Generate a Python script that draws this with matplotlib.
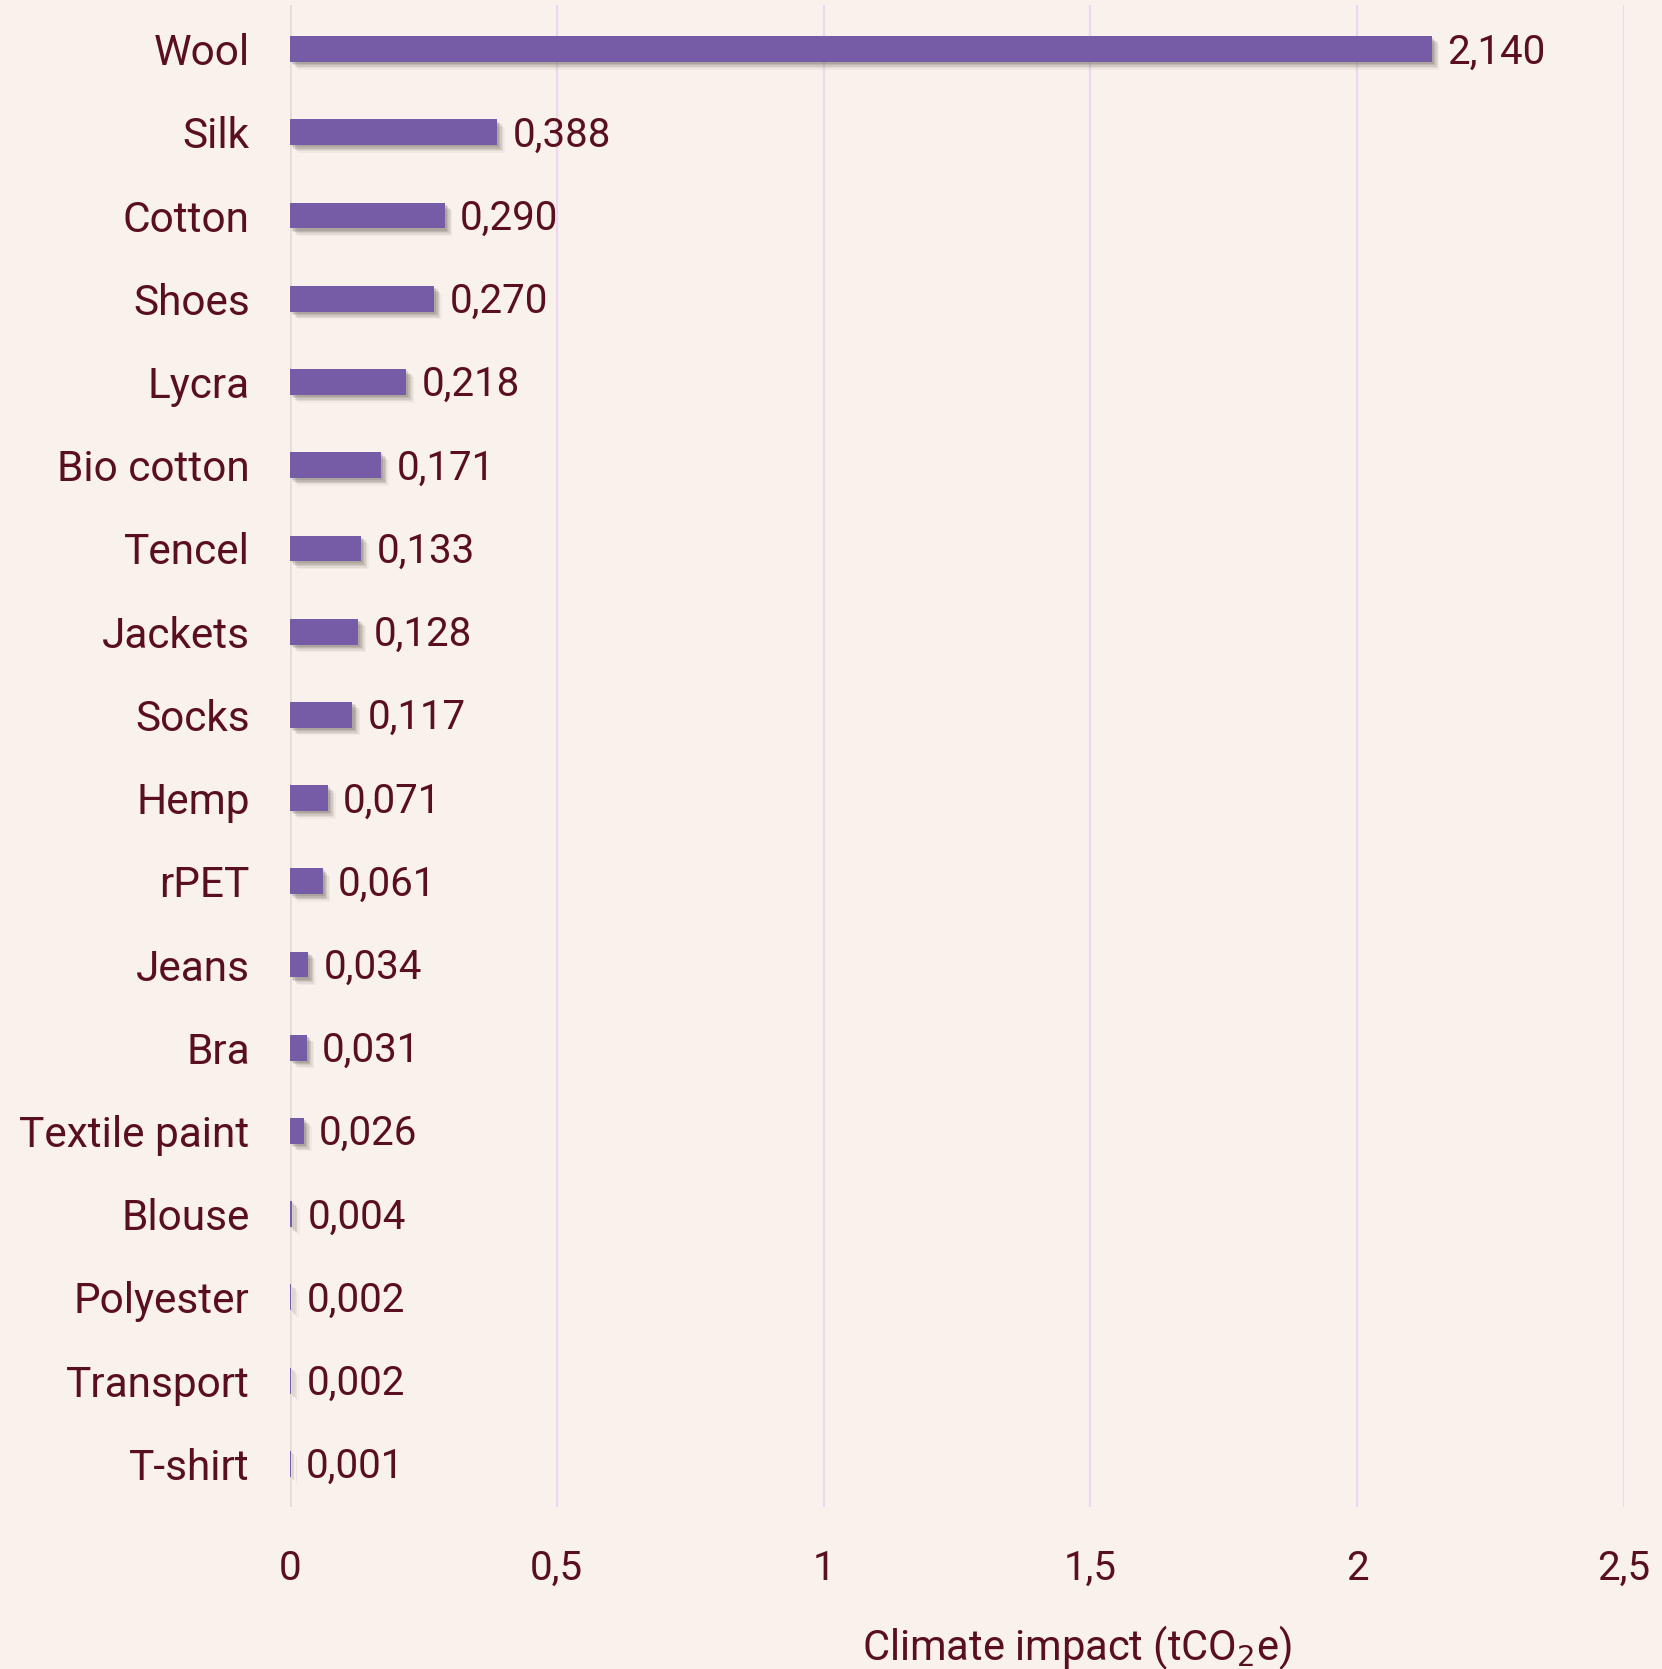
import matplotlib
matplotlib.use("Agg")
import matplotlib.pyplot as plt
import matplotlib.patheffects as pe

categories = ["Wool", "Silk", "Cotton", "Shoes", "Lycra", "Bio cotton", "Tencel",
              "Jackets", "Socks", "Hemp", "rPET", "Jeans", "Bra", "Textile paint",
              "Blouse", "Polyester", "Transport", "T-shirt"]
values = [2.140, 0.388, 0.290, 0.270, 0.218, 0.171, 0.133, 0.128, 0.117, 0.071,
          0.061, 0.034, 0.031, 0.026, 0.004, 0.002, 0.002, 0.001]
xticks = [0, 0.5, 1, 1.5, 2, 2.5]
xtick_labels = ["0", "0,5", "1", "1,5", "2", "2,5"]

BG = "#F9F1EC"
BAR = "#765BA7"
TXT = "#5A0F1E"
GRID = "#EAD9EE"

plt.rcParams['font.family'] = ['Roboto', 'DejaVu Sans']

fig = plt.figure(figsize=(16.62, 16.69), dpi=100, facecolor=BG)
ax = fig.add_axes([0.1745, 0.097, 0.977 - 0.1745, 0.997 - 0.097])
ax.set_facecolor(BG)

y = list(range(len(categories)))
bars = ax.barh(y, values, height=0.31, color=BAR, zorder=3)
for b in bars:
    b.set_path_effects([
        pe.SimplePatchShadow(offset=(5.5, -5.5), shadow_rgbFace="#6b6259", alpha=0.06),
        pe.SimplePatchShadow(offset=(4.5, -4.5), shadow_rgbFace="#6b6259", alpha=0.1),
        pe.SimplePatchShadow(offset=(3.5, -3.5), shadow_rgbFace="#6b6259", alpha=0.14),
        pe.SimplePatchShadow(offset=(2.5, -2.5), shadow_rgbFace="#6b6259", alpha=0.18),
        pe.SimplePatchShadow(offset=(1.5, -1.5), shadow_rgbFace="#6b6259", alpha=0.2),
        pe.Normal()])

for yi, v in zip(y, values):
    ax.annotate(f"{v:.3f}".replace(".", ","), xy=(v, yi), xytext=(11, -2),
                textcoords="offset points", ha="left", va="center",
                fontsize=29, color=TXT)

ax.set_xlim(0, 2.5)
ax.set_ylim(len(categories) - 0.48, -0.53)
ax.set_xticks(xticks)
ax.set_xticklabels(xtick_labels)
ax.set_yticks(y)
ax.set_yticklabels(categories)
ax.tick_params(axis="both", length=0, labelsize=29, colors=TXT)
ax.tick_params(axis="y", pad=29, labelsize=30.5)
ax.tick_params(axis="x", pad=30)

for s in ax.spines.values():
    s.set_visible(False)

for t in xticks[1:]:
    ax.axvline(t, color=GRID, lw=1.5, zorder=1)
ax.axvline(0, color="#E3DDD6", lw=2, zorder=1)

fig.text(0.648, -0.002, "Climate impact (tCO$_2$e)", ha="center", va="bottom",
         fontsize=30, color=TXT)

fig.savefig("out.png", dpi=100, facecolor=BG)
